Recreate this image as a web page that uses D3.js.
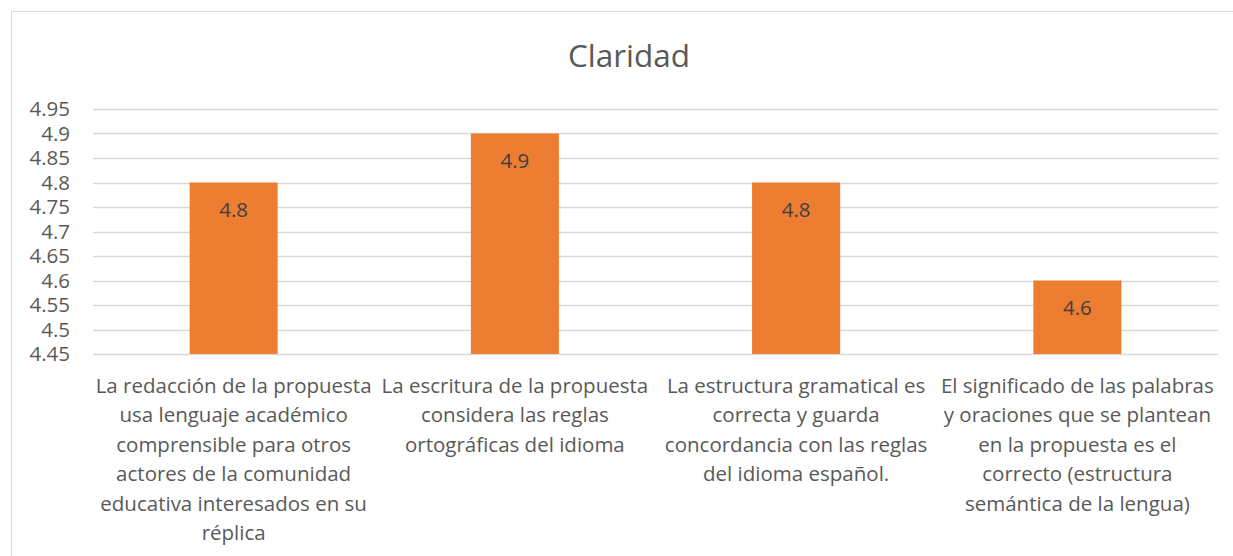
<!DOCTYPE html>
<html>
<head>
<meta charset="utf-8">
<script src="https://cdn.jsdelivr.net/npm/d3@7"></script>
<style>
  body { margin: 0; background: #fff; }
  text { font-family: "Open Sans", sans-serif; }
</style>
</head>
<body>
<svg id="chart"></svg>
<script>
let categories = [
  "La redacción de la propuesta usa lenguaje académico comprensible para otros actores de la comunidad educativa interesados en su réplica",
  "La escritura de la propuesta considera las reglas ortográficas del idioma",
  "La estructura gramatical es correcta y guarda concordancia con las reglas del idioma español.",
  "El significado de las palabras y oraciones que se plantean en la propuesta es el correcto (estructura semántica de la lengua)"
];
let categoryLines = [
  ["La redacción de la propuesta", "usa lenguaje académico", "comprensible para otros", "actores de la comunidad", "educativa interesados en su", "réplica"],
  ["La escritura de la propuesta", "considera las reglas", "ortográficas del idioma"],
  ["La estructura gramatical es", "correcta y guarda", "concordancia con las reglas", "del idioma español."],
  ["El significado de las palabras", "y oraciones que se plantean", "en la propuesta es el", "correcto (estructura", "semántica de la lengua)"]
];
let values = [4.8, 4.9, 4.8, 4.6];
let yTicks = [4.45, 4.5, 4.55, 4.6, 4.65, 4.7, 4.75, 4.8, 4.85, 4.9, 4.95];
let title = "Claridad";

let config = { svg: {}, plot: {} };
config.svg.width = 1233;
config.svg.height = 556;
config.plot.x = 93;
config.plot.y = 109;
config.plot.width = 1125;
config.plot.height = 245;

let svg = d3.select("svg#chart")
  .attr("width", config.svg.width)
  .attr("height", config.svg.height);

// chart frame
svg.append("rect")
  .attr("x", 11.5).attr("y", 11.5)
  .attr("width", 1240).attr("height", 600)
  .attr("fill", "none")
  .attr("stroke", "#d9d9d9");

svg.append("text")
  .text(title)
  .attr("x", 629).attr("y", 67)
  .attr("text-anchor", "middle")
  .attr("font-size", "31.5px")
  .attr("fill", "#595959");

let scale = {};
scale.x = d3.scaleBand()
  .domain(categories)
  .range([0, config.plot.width])
  .paddingInner(0.687)
  .paddingOuter(0.3435);
scale.y = d3.scaleLinear()
  .domain([4.45, 4.95])
  .range([config.plot.height, 0]);

let plot = svg.append("g")
  .attr("transform", translate(config.plot.x, config.plot.y));

// gridlines
plot.append("g")
  .selectAll("line")
  .data(yTicks)
  .enter()
  .append("line")
  .attr("x1", 0).attr("x2", config.plot.width)
  .attr("y1", d => Math.round(scale.y(d)) + 0.5)
  .attr("y2", d => Math.round(scale.y(d)) + 0.5)
  .attr("stroke", "#d9d9d9")
  .attr("stroke-width", 1.5);

// y axis labels
let axisY = d3.axisLeft(scale.y)
  .tickValues(yTicks)
  .tickFormat(d => String(+d.toFixed(2)))
  .tickSize(0)
  .tickPadding(23);
let gy = plot.append("g").call(axisY);
gy.select(".domain").remove();
gy.selectAll("text")
  .attr("font-size", "20.5px")
  .attr("fill", "#595959")
  .style("font-family", "'Open Sans', sans-serif");

// bars
plot.selectAll("rect.bar")
  .data(values)
  .enter()
  .append("rect")
  .attr("class", "bar")
  .attr("x", (d, i) => scale.x(categories[i]))
  .attr("y", d => scale.y(d))
  .attr("width", scale.x.bandwidth())
  .attr("height", d => config.plot.height - scale.y(d))
  .attr("fill", "#ed7d31");

// data labels
plot.selectAll("text.value")
  .data(values)
  .enter()
  .append("text")
  .attr("class", "value")
  .text(d => d)
  .attr("x", (d, i) => scale.x(categories[i]) + scale.x.bandwidth() / 2)
  .attr("y", d => scale.y(d) + 34)
  .attr("text-anchor", "middle")
  .attr("font-size", "20.5px")
  .attr("fill", "#404040");

// category labels
let cats = plot.append("g")
  .attr("transform", translate(0, config.plot.height));
categoryLines.forEach((lines, i) => {
  let cx = scale.x(categories[i]) + scale.x.bandwidth() / 2;
  cats.selectAll(null)
    .data(lines)
    .enter()
    .append("text")
    .text(d => d)
    .attr("x", cx)
    .attr("y", (d, j) => 39 + j * 29.4)
    .attr("text-anchor", "middle")
    .attr("font-size", "20.5px")
    .attr("fill", "#595959");
});

function translate(x, y) {
  return 'translate(' + x + ',' + y + ')';
}
</script>
</body>
</html>
